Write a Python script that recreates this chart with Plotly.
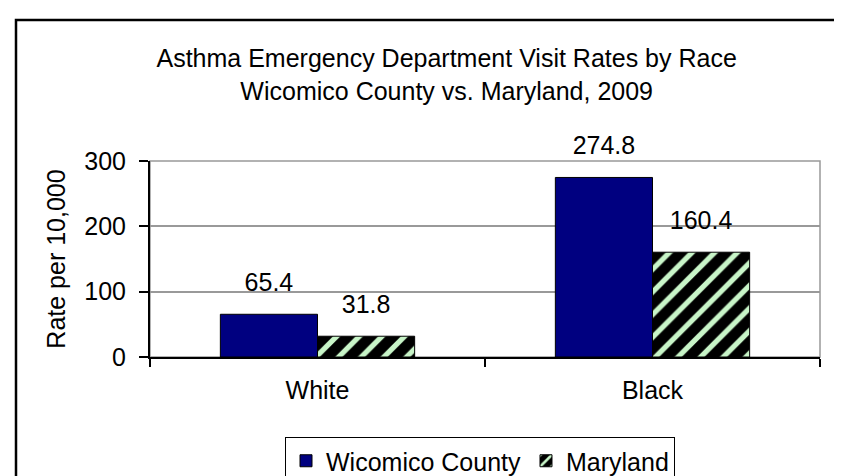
import plotly.graph_objects as go

categories = ["White", "Black"]
wicomico = [65.4, 274.8]
maryland = [31.8, 160.4]
series_names = ["Wicomico County", "Maryland"]
y_ticks = [0, 100, 200, 300]

FONT = "Liberation Sans, Arial, sans-serif"
FS = 25

W, H = 842, 476
ML, MR, MT, MB = 142, 30, 153, 127
PW, PH = W - ML - MR, H - MT - MB


def px_x(p):
    return (p - ML) / PW


def px_y(p):
    return (H - MB - p) / PH


fig = go.Figure()
fig.add_trace(go.Bar(
    x=categories, y=wicomico, name=series_names[0], offsetgroup="a",
    marker=dict(color="#000080", line=dict(color="black", width=1)),
))
fig.add_trace(go.Bar(
    x=categories, y=maryland, name=series_names[1], offsetgroup="b",
    marker=dict(color="black", line=dict(color="black", width=1),
                pattern=dict(shape="/", fgcolor="#c8f5c8", bgcolor="black",
                             size=16, solidity=0.33, fillmode="replace", fgopacity=1)),
))
for vals, grp in ((wicomico, "a"), (maryland, "b")):
    fig.add_trace(go.Scatter(
        x=categories, y=vals, mode="markers+text", offsetgroup=grp,
        text=[f"{v:.1f}" for v in vals], textposition="top center",
        marker=dict(size=26, color="rgba(0,0,0,0)"),
        textfont=dict(family=FONT, size=FS, color="black"),
        showlegend=False, hoverinfo="skip", cliponaxis=False,
    ))

# outer frame (left and top edges visible) and plot-area border
fig.add_shape(type="rect", xref="paper", yref="paper",
              x0=px_x(8), x1=px_x(870), y0=px_y(500), y1=px_y(12),
              line=dict(color="black", width=2.5), layer="below")
fig.add_shape(type="rect", xref="paper", yref="paper",
              x0=0, x1=1, y0=0, y1=1,
              line=dict(color="#999999", width=1.5), layer="below")

fig.update_layout(
    width=W, height=H,
    margin=dict(l=ML, r=MR, t=MT, b=MB, autoexpand=False),
    paper_bgcolor="white", plot_bgcolor="white",
    barmode="group", bargap=0.42, bargroupgap=0,
    scattermode="group", scattergap=0.42,
    font=dict(family=FONT, size=FS, color="black"),
    title=dict(
        text="Asthma Emergency Department Visit Rates by Race<br>Wicomico County vs. Maryland, 2009",
        x=0.521, xanchor="center", xref="container",
        y=1 - 59 / H, yanchor="top", yref="container",
        font=dict(family=FONT, size=FS, color="black"),
    ),
    legend=dict(
        orientation="h", x=472 / W, xanchor="center", xref="container",
        y=1 - 429 / H, yanchor="top", yref="container",
        bordercolor="black", borderwidth=1, bgcolor="white",
        font=dict(family=FONT, size=FS, color="black"),
        itemwidth=30, traceorder="normal",
    ),
    yaxis=dict(
        range=[0, 300], tickvals=y_ticks, showgrid=True, gridcolor="#999999", gridwidth=1.5,
        showline=True, linecolor="black", linewidth=2, automargin=False,
        ticks="outside", ticklen=9, tickcolor="black", tickwidth=1.5,
        ticklabelstandoff=8, zeroline=False,
        title=dict(text="Rate per 10,000", standoff=12, font=dict(size=FS)),
    ),
    xaxis=dict(
        showline=True, linecolor="black", linewidth=2, automargin=False,
        ticks="outside", tickson="boundaries", ticklen=8, tickcolor="black", tickwidth=1.5,
        ticklabelstandoff=10, showgrid=False,
    ),
)

fig.write_html("out.html")
